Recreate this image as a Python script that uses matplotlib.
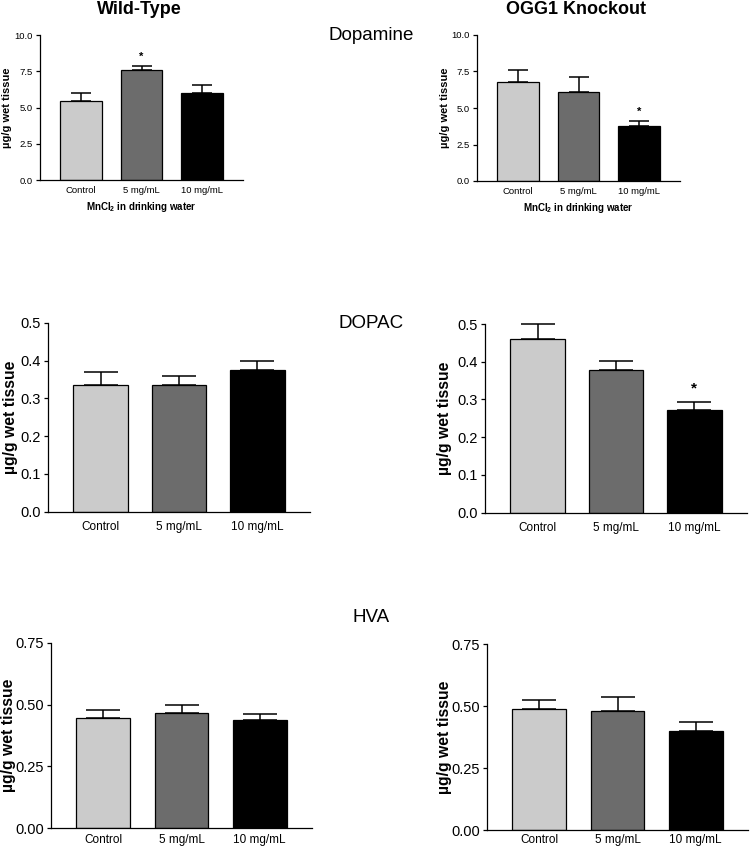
import matplotlib
matplotlib.use("Agg")
import matplotlib.pyplot as plt
import numpy as np

plt.rcParams['font.family'] = ['Liberation Sans', 'DejaVu Sans']
plt.rcParams['mathtext.fontset'] = 'custom'
plt.rcParams['mathtext.rm'] = 'Liberation Sans'
plt.rcParams['mathtext.bf'] = 'Liberation Sans:bold'

# ---- data ----
categories = ["Control", "5 mg/mL", "10 mg/mL"]
bar_colors = ["#cbcbcb", "#6c6c6c", "#000000"]

dopamine_wt = [5.45, 7.59, 5.98]
dopamine_wt_err = [0.53, 0.29, 0.57]
dopamine_ko = [6.78, 6.07, 3.80]
dopamine_ko_err = [0.82, 1.07, 0.33]

dopac_wt = [0.334, 0.334, 0.376]
dopac_wt_err = [0.035, 0.025, 0.023]
dopac_ko = [0.460, 0.378, 0.273]
dopac_ko_err = [0.040, 0.025, 0.020]

hva_wt = [0.447, 0.467, 0.437]
hva_wt_err = [0.031, 0.033, 0.023]
hva_ko = [0.488, 0.480, 0.400]
hva_ko_err = [0.037, 0.058, 0.038]

dopamine_ticks = [0.0, 2.5, 5.0, 7.5, 10.0]
dopac_ticks = [0.0, 0.1, 0.2, 0.3, 0.4, 0.5]
hva_ticks = [0.0, 0.25, 0.5, 0.75]

dopamine_sig = [False, True, False], [False, False, True]
dopac_sig = [False, False, False], [False, False, True]
hva_sig = [False, False, False], [False, False, False]

ylab = "µg/g wet tissue"
xlab_top = r"MnCl$_\mathbf{2}$ in drinking water"

W, H = 750, 850
fig = plt.figure(figsize=(7.5, 8.5), dpi=100)


def rect(left, right, top, bottom):
    return [left / W, 1 - bottom / H, (right - left) / W, (bottom - top) / H]


def panel(r, vals, errs, ticks, fmt, sig, small, ylx, xpad, xlabel=None):
    ax = fig.add_axes(r)
    x = np.arange(len(categories))
    ax.bar(x, vals, width=0.69, color=bar_colors, edgecolor="black",
           linewidth=0.9, zorder=2)
    cap = 7.0 if small else 12.0
    ax.errorbar(x, vals, yerr=[np.zeros(len(vals)), errs], fmt="none",
                ecolor="black", elinewidth=1.1, capsize=cap, capthick=1.1,
                zorder=1, clip_on=False)
    for xi, v, e, s in zip(x, vals, errs, sig):
        if s:
            ax.annotate("*", (xi, v + e), xytext=(0, 3 if small else 5),
                        textcoords="offset points", ha="center", va="bottom",
                        fontsize=8 if small else 11, fontweight="bold")
    ax.set_xlim(-0.67, 2.67)
    ax.set_ylim(ticks[0], ticks[-1])
    ax.set_yticks(ticks)
    ax.set_yticklabels([fmt % t for t in ticks])
    ax.set_xticks(x)
    ax.set_xticklabels(categories)
    for sp in ["top", "right"]:
        ax.spines[sp].set_visible(False)
    for sp in ["left", "bottom"]:
        ax.spines[sp].set_linewidth(0.9)
    ax.tick_params(axis="x", length=0, pad=xpad,
                   labelsize=6.8 if small else 8.5)
    ax.tick_params(axis="y", length=3, width=0.9, pad=2,
                   labelsize=6.8 if small else 10.5)
    ax.set_ylabel(ylab, fontsize=8 if small else 11.3, fontweight="bold")
    ax.yaxis.set_label_coords(ylx, 0.5)
    if xlabel:
        ax.set_xlabel(xlabel, fontsize=7, fontweight="bold")
        ax.xaxis.set_label_coords(0.5, -0.135)
    return ax


panel(rect(40, 243, 35, 180), dopamine_wt, dopamine_wt_err, dopamine_ticks,
      "%.1f", dopamine_sig[0], True, -0.14, 4, xlab_top)
panel(rect(477, 680, 35, 181), dopamine_ko, dopamine_ko_err, dopamine_ticks,
      "%.1f", dopamine_sig[1], True, -0.135, 4, xlab_top)
panel(rect(48, 310, 322.7, 511.7), dopac_wt, dopac_wt_err, dopac_ticks,
      "%.1f", dopac_sig[0], False, -0.115, 6.5)
panel(rect(485, 747, 324, 512.7), dopac_ko, dopac_ko_err, dopac_ticks,
      "%.1f", dopac_sig[1], False, -0.125, 6.5)
panel(rect(51, 312, 642.7, 828.3), hva_wt, hva_wt_err, hva_ticks,
      "%.2f", hva_sig[0], False, -0.135, 4)
panel(rect(487, 748, 644.3, 830), hva_ko, hva_ko_err, hva_ticks,
      "%.2f", hva_sig[1], False, -0.135, 3)

fig.text(139 / W, 1 - 9 / H, "Wild-Type", ha="center", va="center",
         fontsize=13, fontweight="bold")
fig.text(576 / W, 1 - 9 / H, "OGG1 Knockout", ha="center", va="center",
         fontsize=13, fontweight="bold")
fig.text(371 / W, 1 - 36 / H, "Dopamine", ha="center", va="center", fontsize=13.5)
fig.text(371 / W, 1 - 323 / H, "DOPAC", ha="center", va="center", fontsize=13.5)
fig.text(371 / W, 1 - 617 / H, "HVA", ha="center", va="center", fontsize=13.5)

fig.savefig("out.png", dpi=100)
